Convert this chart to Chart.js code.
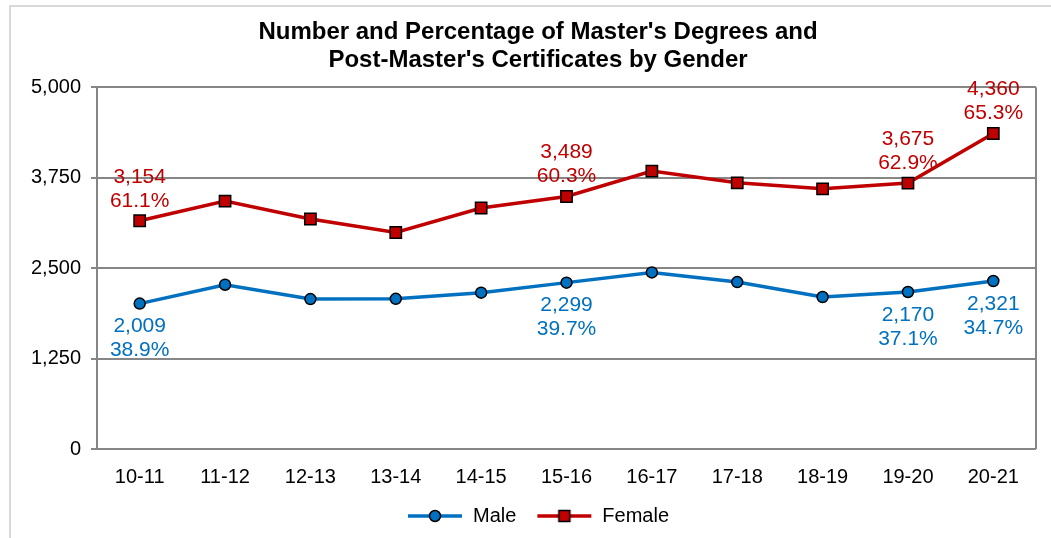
<!DOCTYPE html>
<html>
<head>
<meta charset="utf-8">
<script src="https://cdn.jsdelivr.net/npm/chart.js@4.4.1/dist/chart.umd.min.js"></script>
<style>
  html, body { margin: 0; padding: 0; background: #fff; }
  #wrap { position: relative; width: 1051px; height: 538px; overflow: hidden; }
  #frame { position: absolute; left: 9px; top: 5px; width: 1100px; height: 600px;
           border-left: 2px solid #d9d9d9; border-top: 2px solid #d9d9d9; }
  canvas { position: absolute; left: 0; top: 0; }
</style>
</head>
<body>
<div id="wrap">
  <div id="frame"></div>
  <canvas id="genderChart" width="1051" height="538"></canvas>
</div>
<script>
// academic years on the x axis
const years = ['10-11', '11-12', '12-13', '13-14', '14-15', '15-16', '16-17', '17-18', '18-19', '19-20', '20-21'];

// counts (labelled points are exact)
const maleCounts = [2009, 2270, 2072, 2075, 2160, 2299, 2440, 2307, 2100, 2170, 2321];
const femaleCounts = [3154, 3425, 3178, 2992, 3330, 3489, 3840, 3678, 3595, 3675, 4360];

// percentage labels shown next to some points
const malePercents = ['38.9%', null, null, null, null, '39.7%', null, null, null, '37.1%', '34.7%'];
const femalePercents = ['61.1%', null, null, null, null, '60.3%', null, null, null, '62.9%', '65.3%'];

const yMax = 5000;
const yStep = 1250;

const MALE_BLUE = '#0070C0';
const FEMALE_RED = '#C00000';
const GRID_GREY = '#868686';
const FONT = '"Liberation Sans", Arial, sans-serif';

function legendIcon(color, shape) {
  const c = document.createElement('canvas');
  c.width = 56;
  c.height = 16;
  const g = c.getContext('2d');
  g.strokeStyle = color;
  g.lineWidth = 3.5;
  g.beginPath();
  g.moveTo(1, 8);
  g.lineTo(55, 8);
  g.stroke();
  g.fillStyle = color;
  g.strokeStyle = '#000';
  g.lineWidth = 1.5;
  g.beginPath();
  if (shape === 'circle') {
    g.arc(28, 8, 5.5, 0, Math.PI * 2);
  } else {
    g.rect(22.5, 2.5, 11, 11);
  }
  g.fill();
  g.stroke();
  return c;
}

// tick labels are allowed to spill out of their (fixed-size) axis box
function unclipLabels(scale) {
  scale._computeLabelArea = () => undefined;
}

// two-line value labels (count + share) above/below the marked points
const pointLabels = {
  id: 'pointLabels',
  afterDatasetsDraw(chart) {
    const ctx = chart.ctx;
    ctx.save();
    ctx.font = '21px ' + FONT;
    ctx.textAlign = 'center';
    ctx.textBaseline = 'middle';
    chart.data.datasets.forEach((ds, i) => {
      const meta = chart.getDatasetMeta(i);
      const offsets = ds.labelSide === 'above' ? [-44, -20] : [23, 47];
      ctx.fillStyle = ds.borderColor;
      ds.percents.forEach((pct, idx) => {
        if (!pct) return;
        const pt = meta.data[idx];
        ctx.fillText(ds.data[idx].toLocaleString('en-US'), pt.x, pt.y + offsets[0]);
        ctx.fillText(pct, pt.x, pt.y + offsets[1]);
      });
    });
    ctx.restore();
  }
};

// right edge of the plot frame
const plotFrame = {
  id: 'plotFrame',
  beforeDatasetsDraw(chart) {
    const { ctx, chartArea } = chart;
    ctx.save();
    ctx.strokeStyle = GRID_GREY;
    ctx.lineWidth = 2;
    ctx.beginPath();
    ctx.moveTo(chartArea.right, chartArea.top);
    ctx.lineTo(chartArea.right, chartArea.bottom);
    ctx.stroke();
    ctx.restore();
  }
};

new Chart(document.getElementById('genderChart'), {
  type: 'line',
  data: {
    labels: years,
    datasets: [
      {
        label: 'Male',
        data: maleCounts,
        percents: malePercents,
        labelSide: 'below',
        borderColor: MALE_BLUE,
        backgroundColor: MALE_BLUE,
        borderWidth: 3.5,
        pointStyle: 'circle',
        pointRadius: 5.5,
        pointBorderColor: '#000',
        pointBorderWidth: 1.5,
        pointBackgroundColor: MALE_BLUE,
        legendIcon: legendIcon(MALE_BLUE, 'circle'),
        tension: 0
      },
      {
        label: 'Female',
        data: femaleCounts,
        percents: femalePercents,
        labelSide: 'above',
        borderColor: FEMALE_RED,
        backgroundColor: FEMALE_RED,
        borderWidth: 3.5,
        pointStyle: 'rect',
        pointRadius: 8,
        pointBorderColor: '#000',
        pointBorderWidth: 1.5,
        pointBackgroundColor: FEMALE_RED,
        legendIcon: legendIcon(FEMALE_RED, 'rect'),
        tension: 0
      }
    ]
  },
  options: {
    responsive: false,
    animation: false,
    devicePixelRatio: 1,
    layout: { padding: { left: 40, right: 15, top: 0, bottom: 2 } },
    plugins: {
      title: {
        display: true,
        text: ["Number and Percentage of Master's Degrees and", "Post-Master's Certificates by Gender"],
        color: '#000',
        font: { family: FONT, size: 24, weight: 'bold', lineHeight: 1.17 },
        padding: { top: 18, bottom: 13 }
      },
      legend: {
        position: 'bottom',
        labels: {
          color: '#000',
          font: { family: FONT, size: 20 },
          usePointStyle: true,
          pointStyleWidth: 56,
          padding: 20,
          generateLabels: (chart) => chart.data.datasets.map((ds, i) => ({
            text: ds.label,
            fillStyle: ds.backgroundColor,
            strokeStyle: ds.borderColor,
            lineWidth: 0,
            pointStyle: ds.legendIcon,
            hidden: false,
            datasetIndex: i,
            fontColor: '#000'
          }))
        }
      },
      tooltip: { enabled: false }
    },
    scales: {
      x: {
        offset: true,
        afterFit: (scale) => { scale.height = 37; unclipLabels(scale); },
        grid: { display: false },
        border: { display: false },
        ticks: { color: '#000', font: { family: FONT, size: 20 }, padding: 8, maxRotation: 0 }
      },
      y: {
        min: 0,
        max: yMax,
        afterFit: (scale) => { scale.width = 57; unclipLabels(scale); },
        ticks: { stepSize: yStep, color: '#000', font: { family: FONT, size: 20 }, padding: 10 },
        grid: { color: GRID_GREY, lineWidth: 2, tickLength: 6 },
        border: { color: GRID_GREY, width: 2 }
      }
    }
  },
  plugins: [plotFrame, pointLabels]
});
</script>
</body>
</html>
